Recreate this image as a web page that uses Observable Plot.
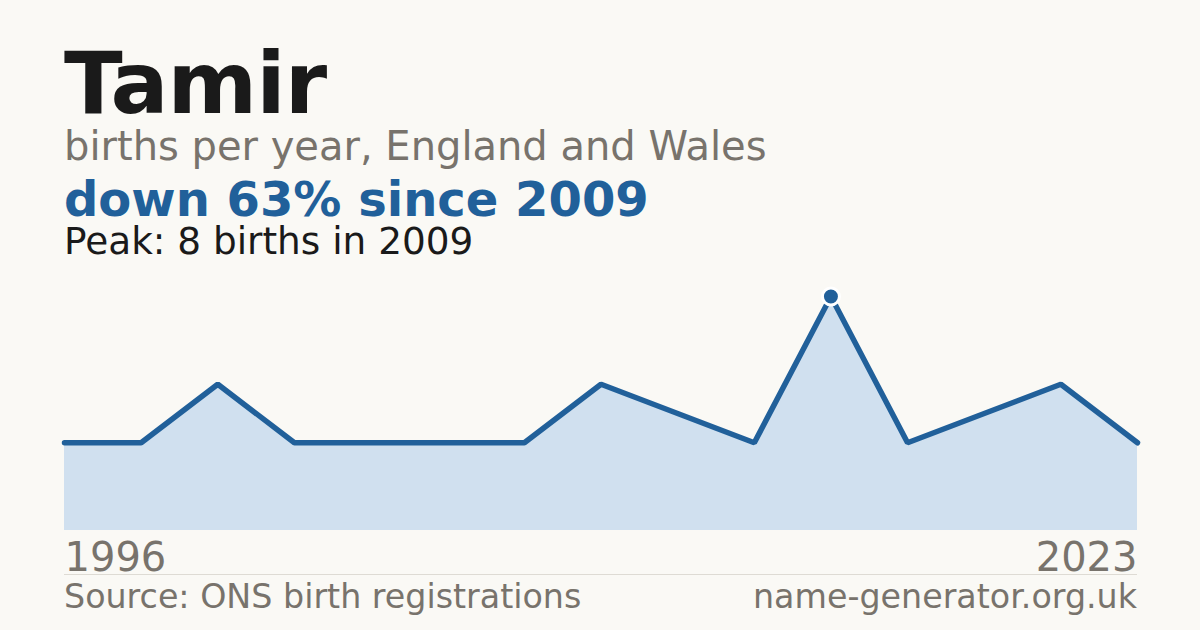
<!DOCTYPE html>
<html>
<head>
<meta charset="utf-8">
<script src="https://cdn.jsdelivr.net/npm/d3@7"></script>
<script src="https://cdn.jsdelivr.net/npm/@observablehq/plot@0.6"></script>
<style>
  html, body { margin: 0; padding: 0; }
  body { width: 1200px; height: 630px; background: #faf9f5; position: relative; overflow: hidden;
         font-family: "DejaVu Sans", sans-serif; }
  .t { position: absolute; left: 64px; line-height: 0.8; white-space: nowrap; }
  #chart { position: absolute; left: 0; top: 270px; width: 1200px; }
</style>
</head>
<body>
<div class="t" id="title" style="top:48.5px;font-size:86px;font-weight:bold;color:#1a1a1a;letter-spacing:-1px;">Tamir</div>
<div class="t" id="sub" style="top:130px;font-size:40px;color:#78736c;">births per year, England and Wales</div>
<div class="t" id="head" style="top:180px;font-size:48px;font-weight:bold;color:#21609a;"></div>
<div class="t" id="peak" style="top:226.5px;font-size:37.4px;color:#1a1a1a;"></div>
<div id="chart"></div>
<div style="position:absolute;left:64px;top:574px;width:1073px;height:1px;background:#dedbd4;"></div>
<div class="t" style="top:584.2px;font-size:33.3px;color:#78736c;">Source: ONS birth registrations</div>
<div class="t" style="top:584.2px;left:auto;right:63px;font-size:33.3px;color:#78736c;">name-generator.org.uk</div>
<script>
const years  = [1996, 1997, 1999, 2000, 2002, 2003, 2005, 2006, 2007, 2008, 2009, 2012, 2016, 2020, 2023];
const births = [3, 3, 5, 3, 3, 3, 3, 5, 4, 3, 8, 3, 4, 5, 3];
const axisLabels = [years[0], years[years.length - 1]];

const data = years.map((y, i) => ({year: String(y), births: births[i]}));
const pk = d3.maxIndex(births);
const peakYear = years[pk], peakVal = births[pk];
const last = births[births.length - 1];
const pct = Math.round((peakVal - last) / peakVal * 100);
document.getElementById("head").textContent = `down ${pct}% since ${peakYear}`;
document.getElementById("peak").textContent = `Peak: ${peakVal} births in ${peakYear}`;

const blue = "#21609a";
const chart = Plot.plot({
  width: 1200,
  height: 310,
  marginLeft: 64,
  marginRight: 63,
  marginTop: 26,
  marginBottom: 50,
  style: {background: "transparent", fontFamily: "DejaVu Sans, sans-serif", overflow: "visible"},
  x: {type: "point", domain: years.map(String), padding: 0, round: false, axis: null},
  y: {domain: [0, peakVal], axis: null},
  marks: [
    Plot.areaY(data, {x: "year", y: "births", fill: "#d0e0ef"}),
    Plot.lineY(data, {x: "year", y: "births", stroke: blue, strokeWidth: 5.5, strokeLinejoin: "miter"}),
    Plot.dot([data[pk]], {x: "year", y: "births", r: 8.5, fill: blue, stroke: "#ffffff", strokeWidth: 3}),
    Plot.text([String(axisLabels[0])], {x: d => d, y: 0, text: d => d, textAnchor: "start", lineAnchor: "top", dy: 12, fontSize: 40, fill: "#78736c"}),
    Plot.text([String(axisLabels[1])], {x: d => d, y: 0, text: d => d, textAnchor: "end", lineAnchor: "top", dy: 12, fontSize: 40, fill: "#78736c"})
  ]
});
document.getElementById("chart").appendChild(chart);
</script>
</body>
</html>
